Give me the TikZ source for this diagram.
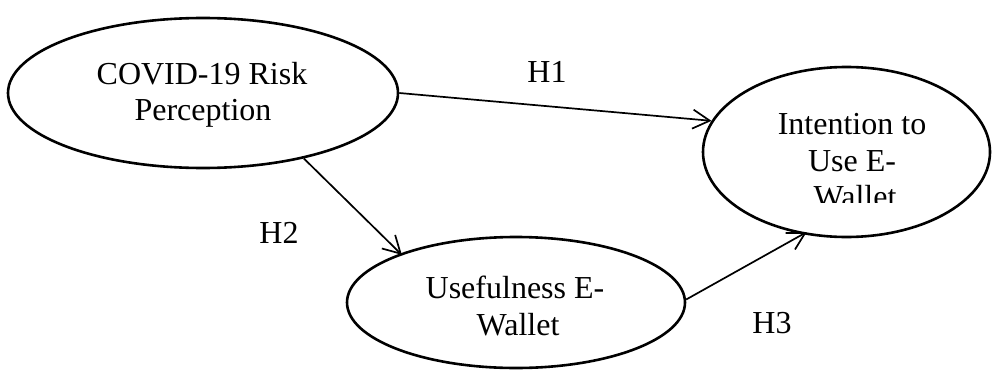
\documentclass[tikz,border=0pt]{standalone}
\usepackage{fontspec}
\setmainfont{Liberation Serif}
\usetikzlibrary{shapes.geometric,arrows.meta}
\tikzset{
  construct/.style={draw, ellipse, line width=2.6pt, inner sep=0pt},
  txt/.style={anchor=base, inner sep=0pt, font=\fontsize{32}{36}\selectfont},
  path/.style={line width=1.7pt, -{Straight Barb[length=17pt,width=19pt,line width=1.7pt]}}
}
\begin{document}
\begin{tikzpicture}[x=1pt,y=-1pt]
\useasboundingbox (0,0) rectangle (992,369);
% constructs
\node[construct, minimum width=390pt, minimum height=150pt] (cov) at (203,93) {};
\node[construct, minimum width=287pt, minimum height=170pt] (int) at (846.5,152) {};
\node[construct, minimum width=338pt, minimum height=131pt] (use) at (516,302.5) {};
% texts
\node[txt] (cov1) at (202,84) {COVID-19 Risk};
\node[txt] (cov2) at (203,120) {Perception};
\node[txt] (use1) at (515,298) {Usefulness E-};
\node[txt] (use2) at (518,335) {Wallet};
\begin{scope}
  \clip (720,90) rectangle (980,202);
  \node[txt] (int1) at (852,134) {Intention to};
  \node[txt] (int2) at (852,171) {Use E-};
  \node[txt] (int3) at (855,207) {Wallet};
\end{scope}
% paths
\draw[path] (cov.-0.9) -- (int.167.8);
\draw[path, shorten >=-2pt] (cov.-33.3) -- (use.157.3);
\draw[path, shorten >=-4.5pt] (use.1.9) -- (int.-118.7);
% labels
\node[txt] (h1) at (547,82) {H1};
\node[txt] (h2) at (279,243) {H2};
\node[txt] (h3) at (772,333) {H3};
\end{tikzpicture}
\end{document}
